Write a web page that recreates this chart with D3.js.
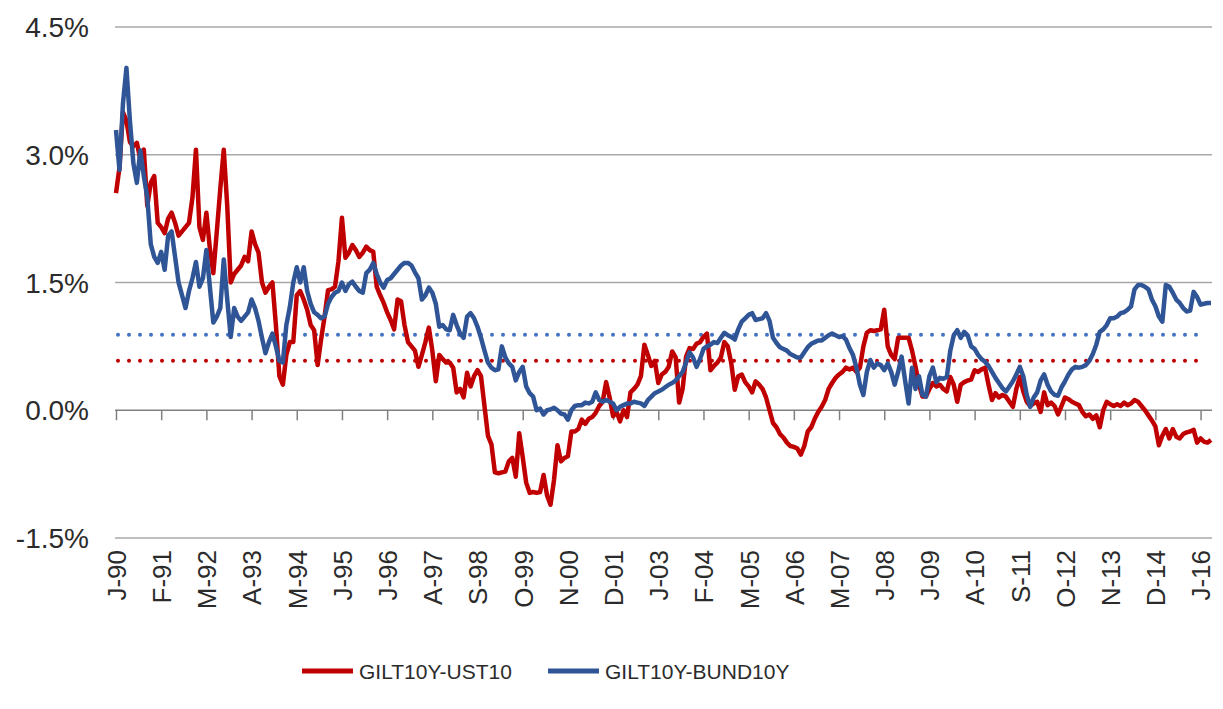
<!DOCTYPE html>
<html>
<head>
<meta charset="utf-8">
<script src="https://cdn.jsdelivr.net/npm/d3@7/dist/d3.min.js"></script>
<style>
  html, body { margin: 0; padding: 0; background: #ffffff; }
  svg { display: block; font-family: "Liberation Sans", Arial, sans-serif; }
</style>
</head>
<body>
<svg id="chart" width="1223" height="709"></svg>
<script>
// ---------------- DATA (monthly, Jan 1990 .. Apr 2016) ----------------
const startYear = 1990;
const seriesNames = ["GILT10Y-UST10", "GILT10Y-BUND10Y"];

const giltUst = [
  2.55, 2.85, 3.5, 3.4, 3.15, 3.1, 3.14, 2.95, 3.06, 2.4, 2.67, 2.75,          // 1990
  2.2, 2.15, 2.08, 2.25, 2.32, 2.2, 2.05, 2.1, 2.15, 2.2, 2.5, 3.06,           // 1991
  2.15, 2.0, 2.32, 1.9, 1.61, 2.1, 2.6, 3.06, 2.4, 1.5, 1.6, 1.65,             // 1992
  1.7, 1.8, 1.75, 2.1, 1.95, 1.85, 1.5, 1.38, 1.45, 1.5, 1.0, 0.4,             // 1993
  0.3, 0.65, 0.8, 0.8, 1.35, 1.4, 1.3, 1.18, 1.0, 0.94, 0.53, 0.83,            // 1994
  1.1, 1.41, 1.42, 1.45, 1.75, 2.26, 1.79, 1.85, 1.94, 1.88, 1.8, 1.85,        // 1995
  1.92, 1.88, 1.86, 1.45, 1.35, 1.26, 1.15, 1.06, 0.95, 1.3, 1.28, 1.0,        // 1996
  0.8, 0.75, 0.7, 0.51, 0.65, 0.8, 0.97, 0.7, 0.34, 0.65, 0.6, 0.56,           // 1997
  0.56, 0.5, 0.21, 0.25, 0.15, 0.44, 0.28, 0.4, 0.47, 0.4, 0.05, -0.3,         // 1998
  -0.4, -0.73, -0.74, -0.73, -0.72, -0.6, -0.56, -0.78, -0.27, -0.55, -0.85, -0.97, // 1999
  -0.96, -0.97, -0.96, -0.76, -1.0, -1.11, -0.82, -0.41, -0.6, -0.56, -0.54, -0.25, // 2000
  -0.25, -0.22, -0.11, -0.16, -0.1, -0.08, -0.03, 0.05, 0.1, 0.33, 0.15, -0.07, // 2001
  -0.02, -0.13, 0.0, -0.08, 0.21, 0.25, 0.3, 0.4, 0.77, 0.65, 0.52, 0.58,      // 2002
  0.32, 0.42, 0.45, 0.51, 0.69, 0.62, 0.09, 0.25, 0.63, 0.73, 0.72, 0.78,      // 2003
  0.8, 0.86, 0.9, 0.47, 0.52, 0.56, 0.62, 0.8, 0.75, 0.55, 0.24, 0.4,          // 2004
  0.42, 0.33, 0.28, 0.21, 0.34, 0.3, 0.25, 0.15, 0.0, -0.15, -0.2, -0.28,      // 2005
  -0.32, -0.38, -0.42, -0.43, -0.45, -0.52, -0.42, -0.25, -0.2, -0.1, -0.02, 0.04, // 2006
  0.12, 0.25, 0.32, 0.38, 0.42, 0.45, 0.5, 0.48, 0.5, 0.45, 0.5, 0.75,         // 2007
  0.91, 0.94, 0.93, 0.94, 0.95, 1.18, 0.75, 0.65, 0.6, 0.85, 0.85, 0.85,       // 2008
  0.85, 0.7, 0.51, 0.3, 0.16, 0.16, 0.25, 0.32, 0.28, 0.3, 0.25, 0.22,         // 2009
  0.39, 0.3, 0.1, 0.3, 0.33, 0.35, 0.36, 0.47, 0.45, 0.48, 0.5, 0.3,           // 2010
  0.12, 0.2, 0.15, 0.18, 0.16, 0.1, 0.04, 0.25, 0.39, 0.22, 0.1, 0.05,         // 2011
  0.08, 0.1, -0.02, 0.21, 0.06, 0.09, 0.05, -0.05, 0.05, 0.15, 0.13, 0.1,      // 2012
  0.08, 0.06, -0.02, -0.07, -0.05, -0.1, -0.06, -0.2, 0.0, 0.1, 0.07, 0.05,    // 2013
  0.07, 0.05, 0.09, 0.06, 0.08, 0.12, 0.1, 0.05, 0.0, -0.06, -0.12, -0.19,     // 2014
  -0.41, -0.3, -0.22, -0.33, -0.22, -0.31, -0.33, -0.28, -0.26, -0.25, -0.23, -0.38, // 2015
  -0.33, -0.37, -0.38, -0.35                                                    // 2016
];

const giltBund = [
  3.29, 2.82, 3.6, 4.02, 3.4, 2.9, 2.67, 3.05, 2.75, 2.5, 1.95, 1.8,           // 1990
  1.73, 1.86, 1.65, 2.05, 2.1, 1.8, 1.5, 1.35, 1.2, 1.4, 1.55, 1.74,           // 1991
  1.45, 1.55, 1.88, 1.45, 1.03, 1.1, 1.2, 1.77, 1.3, 0.86, 1.2, 1.1,           // 1992
  1.05, 1.1, 1.15, 1.3, 1.2, 1.05, 0.85, 0.67, 0.8, 0.9, 0.75, 0.58,           // 1993
  0.56, 1.0, 1.21, 1.5, 1.68, 1.5, 1.68, 1.4, 1.25, 1.15, 1.12, 1.08,          // 1994
  1.1, 1.25, 1.33, 1.38, 1.4, 1.5, 1.4, 1.48, 1.51, 1.45, 1.4, 1.38,           // 1995
  1.61, 1.65, 1.73, 1.6, 1.5, 1.44, 1.53, 1.55, 1.6, 1.65, 1.7, 1.73,          // 1996
  1.73, 1.7, 1.62, 1.55, 1.3, 1.35, 1.44, 1.38, 1.25, 0.98, 1.0, 0.95,         // 1997
  0.94, 1.12, 1.0, 0.9, 0.85, 1.1, 1.14, 1.08, 0.98, 0.85, 0.7, 0.56,          // 1998
  0.5, 0.47, 0.48, 0.75, 0.62, 0.55, 0.51, 0.35, 0.45, 0.51, 0.28, 0.2,        // 1999
  0.16, 0.0, 0.02, -0.05, 0.0, 0.01, 0.03, 0.0, -0.04, -0.05, -0.11, 0.0,      // 2000
  0.05, 0.06, 0.06, 0.09, 0.08, 0.1, 0.21, 0.12, 0.1, 0.12, 0.1, 0.08,         // 2001
  0.0, 0.04, 0.06, 0.08, 0.08, 0.1, 0.09, 0.08, 0.05, 0.12, 0.16, 0.2,         // 2002
  0.22, 0.24, 0.27, 0.3, 0.32, 0.35, 0.4, 0.45, 0.56, 0.68, 0.62, 0.51,        // 2003
  0.6, 0.72, 0.75, 0.77, 0.8, 0.79, 0.85, 0.91, 0.88, 0.86, 0.83, 0.95,        // 2004
  1.04, 1.08, 1.12, 1.14, 1.06, 1.07, 1.08, 1.14, 1.05, 0.85, 0.79, 0.74,      // 2005
  0.72, 0.7, 0.66, 0.64, 0.62, 0.62, 0.68, 0.74, 0.78, 0.8, 0.82, 0.82,        // 2006
  0.85, 0.88, 0.9, 0.88, 0.86, 0.87, 0.83, 0.73, 0.65, 0.5, 0.3, 0.18,         // 2007
  0.45, 0.59, 0.5, 0.55, 0.53, 0.47, 0.55, 0.45, 0.3, 0.45, 0.63, 0.35,        // 2008
  0.08, 0.5, 0.25, 0.4, 0.18, 0.16, 0.4, 0.5, 0.33, 0.38, 0.37, 0.39,          // 2009
  0.7, 0.88, 0.94, 0.85, 0.92, 0.88, 0.75, 0.72, 0.65, 0.6, 0.57, 0.52,        // 2010
  0.45, 0.38, 0.32, 0.26, 0.22, 0.28, 0.34, 0.42, 0.51, 0.4, 0.18, 0.04,       // 2011
  0.15, 0.21, 0.35, 0.42, 0.3, 0.22, 0.18, 0.17, 0.27, 0.34, 0.42, 0.48,       // 2012
  0.51, 0.5, 0.51, 0.53, 0.58, 0.66, 0.77, 0.92, 0.95, 1.0, 1.08, 1.08,        // 2013
  1.1, 1.14, 1.15, 1.18, 1.22, 1.42, 1.47, 1.47, 1.45, 1.42, 1.3, 1.22,        // 2014
  1.1, 1.04, 1.47, 1.45, 1.38, 1.3, 1.26, 1.2, 1.16, 1.17, 1.39, 1.33,         // 2015
  1.24, 1.25, 1.26, 1.26                                                        // 2016
];

// long-run averages (dotted reference lines)
const averages = [0.58, 0.886];

const yTicks = [-1.5, 0, 1.5, 3.0, 4.5];
const xTickLabels = ["J-90","F-91","M-92","A-93","M-94","J-95","J-96","A-97","S-98",
  "O-99","N-00","D-01","J-03","F-04","M-05","A-06","M-07","J-08","J-09","A-10",
  "S-11","O-12","N-13","D-14","J-16"];
const tickStepMonths = 13;

// ---------------- STYLE ----------------
const colors = ["#C00000", "#2F5597"];
const avgColors = ["#C00000", "#4472C4"];
const textColor = "#2B2B2B";

// ---------------- LAYOUT ----------------
const svg = d3.select("#chart");
const plotLeft = 115, plotRight = 1212, plotTop = 27, plotBottom = 538;

const nMonths = giltUst.length;
const x = d3.scaleLinear().domain([0, nMonths - 1]).range([116, 1211]);
const y = d3.scaleLinear().domain([-1.5, 4.5]).range([plotBottom, plotTop]);

// gridlines
svg.append("g").selectAll("line")
  .data(yTicks.filter(d => d !== 0))
  .join("line")
  .attr("x1", plotLeft).attr("x2", plotRight)
  .attr("y1", d => y(d)).attr("y2", d => y(d))
  .attr("stroke", "#A8A8A8").attr("stroke-width", 1.3);

// y labels (hyphen-minus as in the original)
const pct = d => d3.format(".1f")(d).replace("\u2212", "-") + "%";
svg.append("g").selectAll("text")
  .data(yTicks)
  .join("text")
  .attr("x", 89).attr("y", d => y(d)).attr("dy", "0.36em")
  .attr("text-anchor", "end")
  .attr("font-size", 28).attr("fill", textColor)
  .text(pct);

// zero axis with tick marks
const tickVals = xTickLabels.map((d, i) => i * tickStepMonths);
const zeroAxis = svg.append("g")
  .attr("transform", `translate(0,${y(0)})`)
  .call(d3.axisBottom(x).tickValues(tickVals).tickSize(10).tickSizeOuter(0).tickFormat(""));
zeroAxis.select(".domain").attr("stroke", "#808080").attr("stroke-width", 1.5)
  .attr("d", `M${plotLeft},0H${plotRight}`);
zeroAxis.selectAll(".tick line").attr("stroke", "#808080").attr("stroke-width", 1.5);

// bottom labels (rotated)
const labelAxis = svg.append("g")
  .attr("transform", `translate(0,${plotBottom})`)
  .call(d3.axisBottom(x).tickValues(tickVals).tickSize(0).tickFormat((d, i) => xTickLabels[i]));
labelAxis.select(".domain").remove();
labelAxis.selectAll("text")
  .attr("transform", "rotate(-90)")
  .attr("text-anchor", "end")
  .attr("x", -12).attr("y", 0).attr("dy", "0.36em")
  .attr("font-size", 26)
  .attr("font-family", "Liberation Sans, Arial, sans-serif")
  .attr("fill", textColor);

// average dotted lines
svg.append("g").selectAll("line")
  .data(averages)
  .join("line")
  .attr("x1", x(0) + 2).attr("x2", x(nMonths - 4))
  .attr("y1", d => y(d)).attr("y2", d => y(d))
  .attr("stroke", (d, i) => avgColors[i])
  .attr("stroke-width", 4)
  .attr("stroke-linecap", "round")
  .attr("stroke-dasharray", "0 11");

// series lines
const line = d3.line().x((d, i) => x(i)).y(d => y(d));
[giltUst, giltBund].forEach((s, i) => {
  svg.append("path")
    .datum(s)
    .attr("d", line)
    .attr("fill", "none")
    .attr("stroke", colors[i])
    .attr("stroke-width", 4.5)
    .attr("stroke-linejoin", "round");
});

// legend
const legendX = [302, 548];
const legendY = 671;
const lg = svg.append("g");
seriesNames.forEach((name, i) => {
  lg.append("line")
    .attr("x1", legendX[i]).attr("x2", legendX[i] + 51)
    .attr("y1", legendY).attr("y2", legendY)
    .attr("stroke", colors[i]).attr("stroke-width", 5);
  lg.append("text")
    .attr("x", legendX[i] + 57).attr("y", legendY).attr("dy", "0.36em")
    .attr("font-size", 21).attr("fill", textColor)
    .text(name);
});
</script>
</body>
</html>
